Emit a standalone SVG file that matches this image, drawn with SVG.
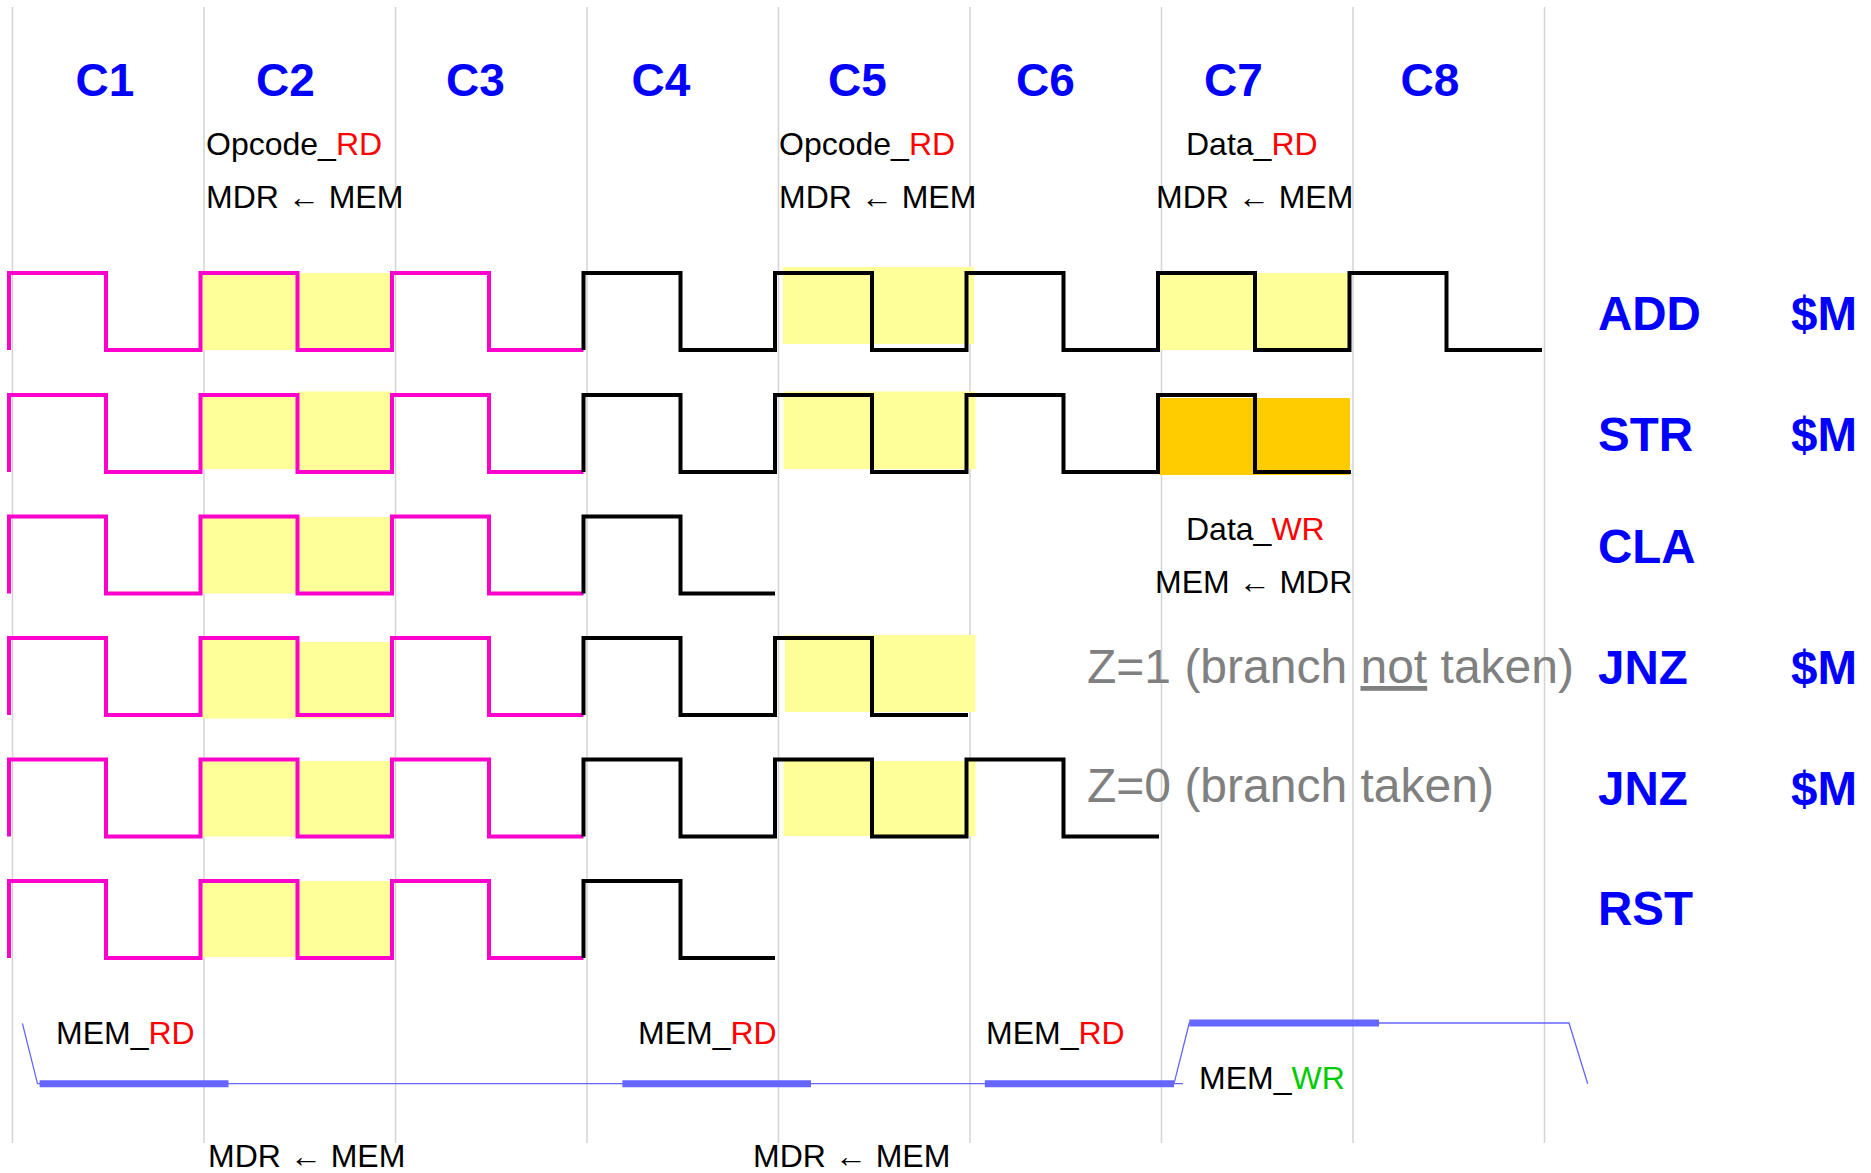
<svg xmlns="http://www.w3.org/2000/svg" width="1871" height="1173" viewBox="0 0 1871 1173">
<style>
.grid{stroke:#d4d4d4;stroke-width:1.5;fill:none}
.mag{stroke:#ff00cc;stroke-width:4;fill:none;stroke-linejoin:miter}
.blk{stroke:#000;stroke-width:4;fill:none;stroke-linejoin:miter}
.yel{fill:#ffff99}
.org{fill:#ffcc00}
.hd{font-family:"Liberation Sans",Arial,sans-serif;font-weight:bold;font-size:46px;fill:#0000ff}
.in{font-family:"Liberation Sans",Arial,sans-serif;font-weight:bold;font-size:47.5px;fill:#0000ff}
.lb{font-family:"Liberation Sans",Arial,sans-serif;font-size:32px;fill:#000}
.z{font-family:"Liberation Sans",Arial,sans-serif;font-size:48px;fill:#808080}
.red{fill:#ff0000}
.grn{fill:#00cc00}
.thin{stroke:#6666ff;stroke-width:1.3;fill:none}
.thick{stroke:#6666ff;stroke-width:7;fill:none}
</style>
<rect width="1871" height="1173" fill="#fff"/>
<g id="grid">
<path class="grid" d="M12.5,7V1143M204,7V1143M395.5,7V1143M587,7V1143M778.5,7V1143M970,7V1143M1161.5,7V1143M1353,7V1143M1544.5,7V1143"/>
</g>
<g id="highlights">
<rect class="yel" x="202" y="273" width="95.5" height="77"/>
<rect class="yel" x="297.5" y="273" width="94.5" height="77"/>
<rect class="yel" x="202" y="395" width="95.5" height="74"/>
<rect class="yel" x="297.5" y="391.5" width="94.5" height="80.5"/>
<rect class="yel" x="202" y="516.5" width="95.5" height="77"/>
<rect class="yel" x="297.5" y="517" width="94.5" height="74.5"/>
<rect class="yel" x="202" y="638" width="95.5" height="80.5"/>
<rect class="yel" x="297.5" y="642" width="94.5" height="76.5"/>
<rect class="yel" x="202" y="759.5" width="95.5" height="77"/>
<rect class="yel" x="297.5" y="761" width="94.5" height="75.5"/>
<rect class="yel" x="202" y="881" width="95.5" height="76"/>
<rect class="yel" x="297.5" y="881" width="94.5" height="76"/>
<rect class="yel" x="783" y="267" width="191" height="77"/>
<rect class="yel" x="783.5" y="391.5" width="192" height="77.5"/>
<rect class="yel" x="785" y="635" width="190.5" height="77"/>
<rect class="yel" x="783.5" y="761" width="192" height="75"/>
<rect class="yel" x="1159" y="273" width="191" height="77"/>
<rect class="org" x="1159" y="398" width="191" height="77"/>
</g>
<g id="row-add">
<path class="mag" d="M9,350V273H106V350H200.5V273H297.5V350H392V273H489V350H583.5"/>
<path class="blk" d="M583.5,350V273H680.5V350H775V273H872V350H966.5V273H1063.5V350H1158V273H1255V350H1349.5V273H1446.5V350H1542"/>
</g>
<g id="row-str">
<path class="mag" d="M9,472V395H106V472H200.5V395H297.5V472H392V395H489V472H583.5"/>
<path class="blk" d="M583.5,472V395H680.5V472H775V395H872V472H966.5V395H1063.5V472H1158V395H1255V472H1351"/>
</g>
<g id="row-cla">
<path class="mag" d="M9,593.5V516.5H106V593.5H200.5V516.5H297.5V593.5H392V516.5H489V593.5H583.5"/>
<path class="blk" d="M583.5,593.5V516.5H680.5V593.5H775"/>
</g>
<g id="row-jnz1">
<path class="mag" d="M9,715V638H106V715H200.5V638H297.5V715H392V638H489V715H583.5"/>
<path class="blk" d="M583.5,715V638H680.5V715H775V638H872V715H968"/>
</g>
<g id="row-jnz0">
<path class="mag" d="M9,836.5V759.5H106V836.5H200.5V759.5H297.5V836.5H392V759.5H489V836.5H583.5"/>
<path class="blk" d="M583.5,836.5V759.5H680.5V836.5H775V759.5H872V836.5H966.5V759.5H1063.5V836.5H1159"/>
</g>
<g id="row-rst">
<path class="mag" d="M9,958V881H106V958H200.5V881H297.5V958H392V881H489V958H583.5"/>
<path class="blk" d="M583.5,958V881H680.5V958H775"/>
</g>
<g id="cycle-labels">
<text class="hd" x="75.5" y="96">C1</text>
<text class="hd" x="256" y="96">C2</text>
<text class="hd" x="446" y="96">C3</text>
<text class="hd" x="631.5" y="96">C4</text>
<text class="hd" x="828" y="96">C5</text>
<text class="hd" x="1016" y="96">C6</text>
<text class="hd" x="1204" y="96">C7</text>
<text class="hd" x="1400.5" y="96">C8</text>
</g>
<g id="instr-labels">
<text class="in" x="1598" y="330">ADD</text>
<text class="in" x="1791" y="330">$M</text>
<text class="in" x="1598" y="451">STR</text>
<text class="in" x="1791" y="451">$M</text>
<text class="in" x="1598" y="563">CLA</text>
<text class="in" x="1598" y="684">JNZ</text>
<text class="in" x="1791" y="684">$M</text>
<text class="in" x="1598" y="805">JNZ</text>
<text class="in" x="1791" y="805">$M</text>
<text class="in" x="1598" y="925">RST</text>
</g>
<g id="step-labels">
<text class="lb" x="206" y="155">Opcode_<tspan class="red">RD</tspan></text>
<text class="lb" x="206" y="208">MDR ← MEM</text>
<text class="lb" x="779" y="155">Opcode_<tspan class="red">RD</tspan></text>
<text class="lb" x="779" y="208">MDR ← MEM</text>
<text class="lb" x="1186" y="155">Data_<tspan class="red">RD</tspan></text>
<text class="lb" x="1156" y="208">MDR ← MEM</text>
<text class="lb" x="1186" y="540">Data_<tspan class="red">WR</tspan></text>
<text class="lb" x="1155" y="593">MEM ← MDR</text>
<text class="z" x="1087" y="683">Z=1 (branch <tspan text-decoration="underline">not</tspan> taken)</text>
<text class="z" x="1087" y="802">Z=0 (branch taken)</text>
</g>
<g id="connectors">
<path class="thin" d="M22.4,1023.3L37.5,1083.7H1183M1174,1083.7L1189.3,1023H1569L1587.7,1083.7"/>
<path class="thick" d="M39.6,1083.7H228.5M622.4,1083.7H811M984.8,1083.7H1174M1189.3,1023H1379"/>
</g>
<g id="bus-labels">
<text class="lb" x="56" y="1044">MEM_<tspan class="red">RD</tspan></text>
<text class="lb" x="638" y="1044">MEM_<tspan class="red">RD</tspan></text>
<text class="lb" x="986" y="1044">MEM_<tspan class="red">RD</tspan></text>
<text class="lb" x="1199" y="1089">MEM_<tspan class="grn">WR</tspan></text>
<text class="lb" x="208" y="1167">MDR ← MEM</text>
<text class="lb" x="753" y="1167">MDR ← MEM</text>
</g>
</svg>
